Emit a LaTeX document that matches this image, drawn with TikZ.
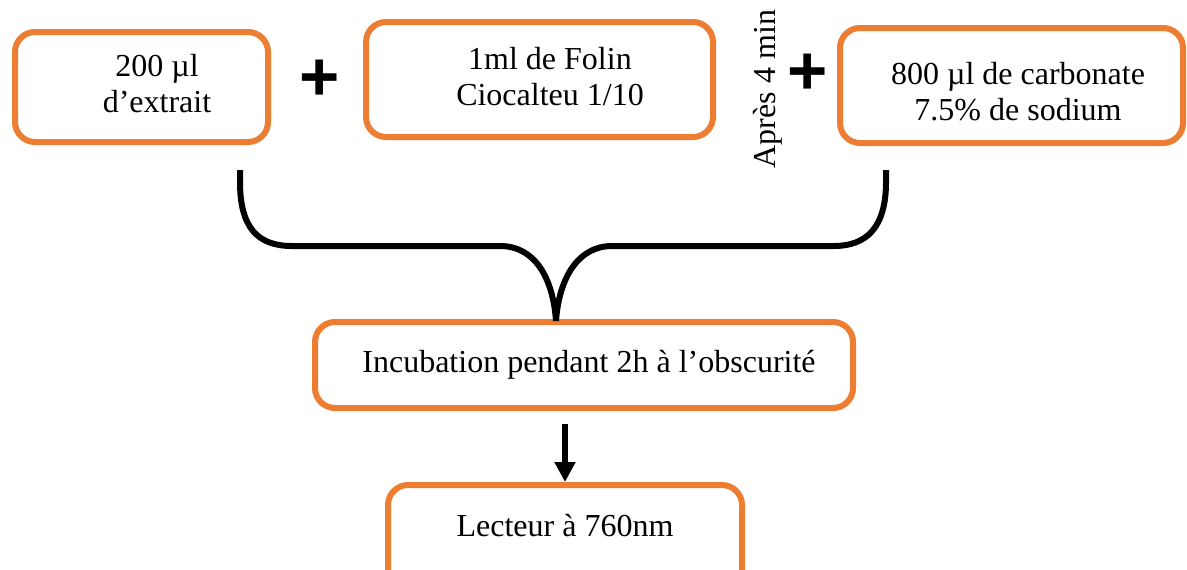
\documentclass[tikz,border=0pt]{standalone}
\usepackage{fontspec}
\setmainfont{Liberation Serif}
\newfontfamily\plusfont{Liberation Sans}
\usetikzlibrary{arrows.meta}
\definecolor{boxorange}{HTML}{ED7D31}
\tikzset{
  box/.style={draw=boxorange, line width=3pt, rounded corners=10pt, fill=white,
              inner sep=0pt, minimum width=#1},
  txt/.style={align=center, font=\fontsize{16pt}{18pt}\selectfont, inner sep=0pt},
  plussign/.style={font=\plusfont\bfseries\fontsize{34.5pt}{36pt}\selectfont, inner sep=0pt},
  joiner/.style={line width=3pt, line cap=butt},
  flow/.style={line width=3pt, -{Triangle[width=10pt,length=10pt]}}
}
\begin{document}
\begin{tikzpicture}[x=0.5pt, y=-0.5pt]
\useasboundingbox (0,0) rectangle (1187,569);

% reagent boxes
\node[box=126.5pt, minimum height=55pt]   (b1) at (141.5,87)  {};
\node[box=173.5pt, minimum height=57.5pt] (b2) at (539.5,79.5) {};
\node[box=171.5pt, minimum height=57.5pt] (b3) at (1011.5,85.5) {};
\node[txt] (t1) at (157,84)  {200 µl\\d’extrait};
\node[txt] (t2) at (550,77)  {1ml de Folin\\Ciocalteu 1/10};
\node[txt] (t3) at (1018,92) {800 µl de carbonate\\7.5\% de sodium};

% plus signs and waiting time
\node[plussign] (p1) at (320,80) {+};
\node[plussign] (p2) at (808,74) {+};
\node[txt, rotate=90] (wait) at (768,89) {Après 4 min};

% incubation and reading
\node[box=269pt, minimum height=43pt] (inc) at (584,365) {};
\node[txt] (tinc) at (589,365) {Incubation pendant 2h à l’obscurité};
\node[box=177pt, minimum height=57.5pt] (lec) at (565,542.5) {};
\node[txt] (tlec) at (565,526) {Lecteur à 760nm};

% brace joining the mixture into the incubation step
\coordinate (bl) at (240,170);
\coordinate (br) at (886,170);
\coordinate (tip) at (556,321);
\draw[joiner] (bl) -- (240,182) .. controls (240,228) and (258,246) .. (292,246)
  -- (500,246) .. controls (535,246) and (553,278) .. (tip);
\draw[joiner] (tip) .. controls (559,278) and (578,246) .. (612,246)
  -- (834,246) .. controls (866,246) and (886,228) .. (886,182) -- (br);

% arrow to the reader
\coordinate (arrstart) at (565,424);
\draw[flow] (arrstart) -- (lec.north);
\end{tikzpicture}
\end{document}
